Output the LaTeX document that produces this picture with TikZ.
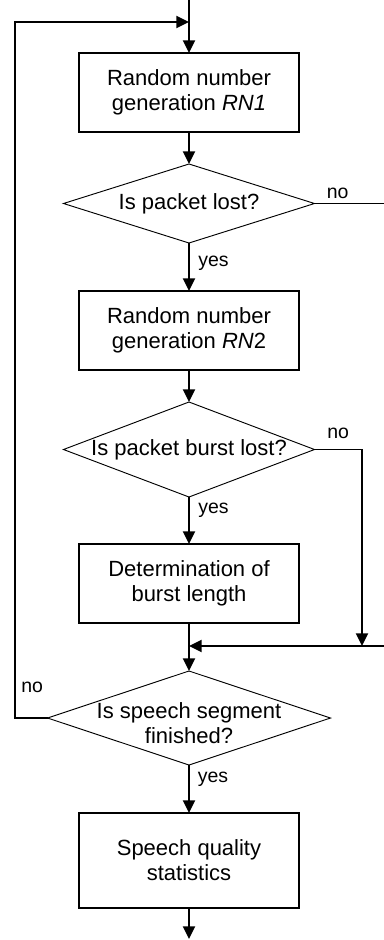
\documentclass[tikz,border=0pt]{standalone}
\usepackage{fontspec}
\setmainfont{Liberation Sans}
\usepackage{tikz}
\usetikzlibrary{shapes.geometric, arrows.meta, positioning}
\newcommand{\flowfont}{\fontsize{16.5}{18.75}\selectfont}
\newcommand{\branchfont}{\fontsize{14.6}{17}\selectfont}
\tikzset{
  procbox/.style={draw, line width=1.1pt, minimum width=165pt, minimum height=59.25pt,
                  inner sep=0pt, outer sep=0pt, align=center, font=\flowfont},
  decision/.style={diamond, draw, line width=0.7pt, inner sep=0pt, outer sep=0pt,
                   minimum width=188.25pt, minimum height=59.25pt},
  decisiontext/.style={align=center, font=\flowfont, inner sep=0pt},
  flowline/.style={line width=1.4pt, -{Triangle[length=9.5pt, width=9pt]}},
  plainline/.style={line width=1.4pt},
  branchlabel/.style={font=\branchfont, inner sep=0pt, anchor=base west}
}

\begin{document}
\begin{tikzpicture}[x=0.75pt, y=-0.75pt]
    \useasboundingbox (0,0) rectangle (384,940);
    % steps and decisions
    \node[procbox] (rn1) at (189,92.5) {Random number\\generation \textit{RN1}};
    \node[decision, label={[decisiontext]center:Is packet lost?}] (lost) at (189,203.5) {};
    \node[procbox] (rn2) at (189,330.5) {Random number\\generation \textit{RN}2};
    \node[decision, minimum height=71.25pt,
          label={[decisiontext]center:Is packet burst lost?}] (burst) at (189,449.5) {};
    \node[procbox] (burstlen) at (189,583.5) {Determination of\\burst length};
    \node[decision, minimum width=212.25pt, minimum height=70.5pt,
          label={[decisiontext, yshift=-3.75pt]center:{Is speech segment\\finished?}}] (speech) at (189,718) {};
    \node[procbox, minimum height=71.25pt] (stats) at (189,860.5) {Speech quality\\statistics};

    % loose ends and corners
    \coordinate (entry) at (189,0);
    \coordinate (loopjoin) at (189,22);
    \coordinate (leftrail) at (15,22);
    \coordinate (exitlost) at (384,203.5);
    \coordinate (burstturn) at (362,646);
    \coordinate (exitmerge) at (384,646);
    \coordinate (mergejoin) at (189,646);
    \coordinate (exitend) at (189,939);

    % connectors
    \draw[flowline] (entry) -- (rn1);
    \draw[flowline] (rn1) -- (lost);
    \draw[plainline] (lost.east) -- (exitlost);
    \draw[flowline] (lost) -- (rn2);
    \draw[flowline] (rn2) -- (burst);
    \draw[flowline] (burst) -- (burstlen);
    \draw[flowline] (burst.east) -| (burstturn);
    \draw[flowline] (exitmerge) -- (mergejoin);
    \draw[flowline] (burstlen) -- (speech);
    \draw[flowline] (speech.west) -| (leftrail) -- (loopjoin);
    \draw[flowline] (speech) -- (stats);
    \draw[flowline] (stats) -- (exitend);

    % branch labels
    \node[branchlabel] (lostno) at (326.5,198) {no};
    \node[branchlabel] (lostyes) at (198,266) {yes};
    \node[branchlabel] (burstno) at (327,438) {no};
    \node[branchlabel] (burstyes) at (198,513) {yes};
    \node[branchlabel] (speechno) at (21,692) {no};
    \node[branchlabel] (speechyes) at (197.5,782) {yes};
\end{tikzpicture}
\end{document}
